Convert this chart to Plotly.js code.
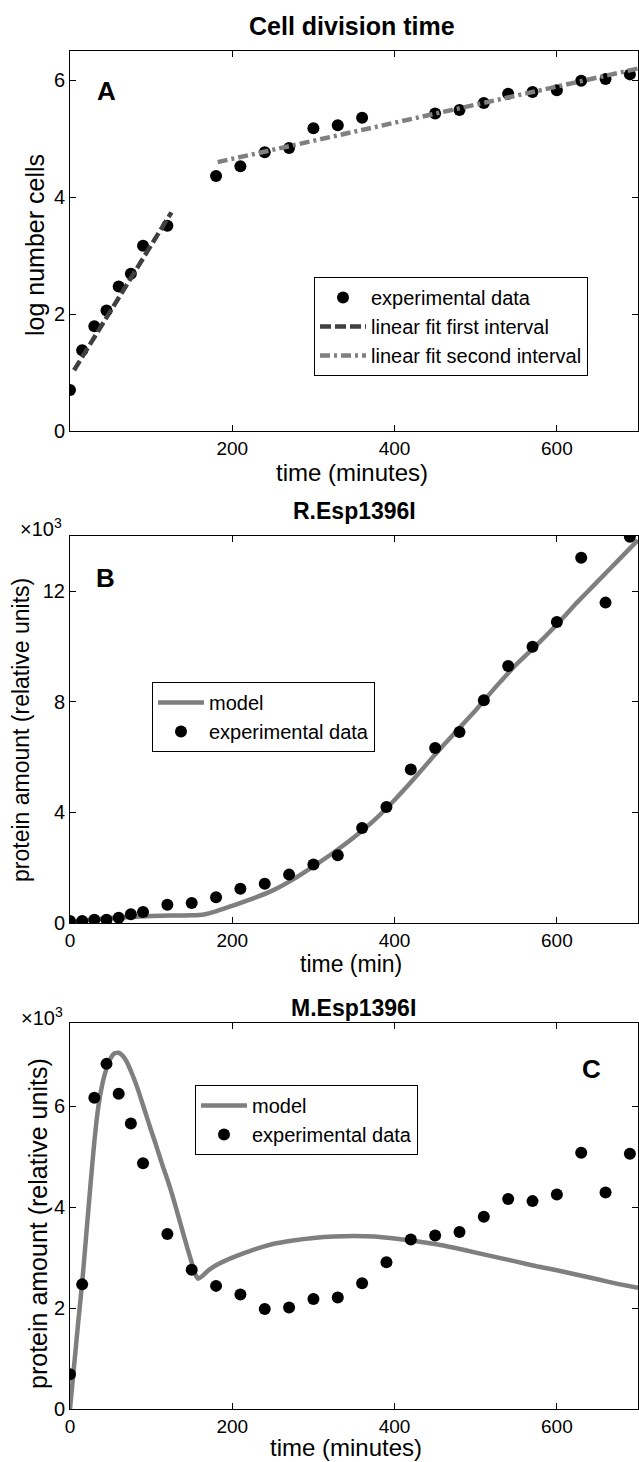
<!DOCTYPE html>
<html>
<head>
<meta charset="utf-8">
<script src="https://cdn.plot.ly/plotly-3.0.1.min.js"></script>
<style>
  html, body { margin: 0; padding: 0; background: #fff; }
  #chart { width: 639px; height: 1462px; }
</style>
</head>
<body>
<div id="chart"></div>
<script>
// ---------- Panel A: cell division time ----------
const timeA = [0, 15, 30, 45, 60, 75, 90, 120, 180, 210, 240, 270, 300, 330, 360, 450, 480, 510, 540, 570, 600, 630, 660, 690];
const logCells = [0.70, 1.38, 1.79, 2.06, 2.47, 2.69, 3.17, 3.51, 4.36, 4.53, 4.77, 4.84, 5.18, 5.23, 5.36, 5.43, 5.49, 5.61, 5.77, 5.80, 5.83, 5.99, 6.02, 6.10];
const fit1Time = [5, 125];
const fit1Value = [1.04, 3.74];
const fit2Time = [182, 700];
const fit2Value = [4.60, 6.20];
const xTicksA = [200, 400, 600];
const yTicksA = [0, 2, 4, 6];

// ---------- Panel B: R.Esp1396I (values in thousands) ----------
const timeBC = [0, 15, 30, 45, 60, 75, 90, 120, 150, 180, 210, 240, 270, 300, 330, 360, 390, 420, 450, 480, 510, 540, 570, 600, 630, 660, 690];
const rProtein = [0.07, 0.07, 0.12, 0.12, 0.19, 0.32, 0.40, 0.66, 0.72, 0.93, 1.24, 1.42, 1.75, 2.12, 2.45, 3.44, 4.20, 5.55, 6.33, 6.91, 8.06, 9.30, 9.99, 10.89, 13.21, 11.59, 13.97];
const rModelTime = [0, 25, 50, 75, 100, 125, 150, 165, 180, 200, 225, 250, 275, 300, 325, 350, 375, 400, 425, 450, 475, 500, 525, 550, 575, 600, 625, 650, 675, 700];
const rModel = [0.03, 0.12, 0.18, 0.22, 0.25, 0.27, 0.28, 0.31, 0.42, 0.62, 0.88, 1.18, 1.58, 2.05, 2.55, 3.10, 3.72, 4.45, 5.25, 6.10, 6.90, 7.70, 8.55, 9.35, 10.05, 10.80, 11.60, 12.35, 13.10, 13.85];
const xTicksBC = [0, 200, 400, 600];
const yTicksB = [0, 4, 8, 12];

// ---------- Panel C: M.Esp1396I (values in thousands) ----------
const mProtein = [0.69, 2.47, 6.17, 6.84, 6.25, 5.66, 4.87, 3.47, 2.76, 2.44, 2.27, 1.98, 2.01, 2.18, 2.21, 2.49, 2.91, 3.36, 3.44, 3.51, 3.81, 4.16, 4.12, 4.25, 5.08, 4.29, 5.06];
const mModelTime = [0, 5, 10, 15, 20, 25, 30, 35, 40, 45, 50, 55, 60, 65, 70, 75, 80, 85, 90, 95, 100, 105, 110, 115, 120, 125, 130, 135, 140, 145, 150, 155, 158, 162, 170, 180, 200, 225, 250, 275, 300, 325, 350, 375, 400, 425, 450, 475, 500, 525, 550, 575, 600, 625, 650, 675, 700];
const mModel = [0, 0.85, 1.70, 2.50, 3.45, 4.40, 5.30, 6.00, 6.45, 6.75, 6.95, 7.05, 7.06, 7.00, 6.88, 6.70, 6.50, 6.27, 6.02, 5.77, 5.52, 5.28, 5.03, 4.78, 4.55, 4.30, 4.02, 3.74, 3.45, 3.17, 2.90, 2.65, 2.58, 2.62, 2.74, 2.85, 3.00, 3.15, 3.27, 3.34, 3.39, 3.42, 3.43, 3.42, 3.38, 3.33, 3.27, 3.19, 3.10, 3.01, 2.92, 2.83, 2.75, 2.66, 2.57, 2.48, 2.40];
const yTicksC = [0, 2, 4, 6];

// ---------- styling ----------
const FONT = 'Liberation Sans, Arial, Helvetica, sans-serif';
const W = 639, H = 1462;
const px = x => x / W;
const py = y => 1 - y / H;

const markerStyle = {color: '#000', size: 12, symbol: 'circle'};
const modelLine = {color: '#7f7f7f', width: 4.5, shape: 'spline', smoothing: 0.4};

const traces = [
  {x: timeA, y: logCells, type: 'scatter', mode: 'markers', name: 'experimental data',
   marker: markerStyle, xaxis: 'x', yaxis: 'y', legend: 'legend'},
  {x: fit1Time, y: fit1Value, type: 'scatter', mode: 'lines', name: 'linear fit first interval',
   line: {color: '#404040', width: 4.5, dash: '11px,4px'}, xaxis: 'x', yaxis: 'y', legend: 'legend'},
  {x: fit2Time, y: fit2Value, type: 'scatter', mode: 'lines', name: 'linear fit second interval',
   line: {color: '#808080', width: 4.5, dash: '10px,4px,3px,4px'}, xaxis: 'x', yaxis: 'y', legend: 'legend'},

  {x: rModelTime, y: rModel, type: 'scatter', mode: 'lines', name: 'model',
   line: modelLine, xaxis: 'x2', yaxis: 'y2', legend: 'legend2'},
  {x: timeBC, y: rProtein, type: 'scatter', mode: 'markers', name: 'experimental data',
   marker: markerStyle, xaxis: 'x2', yaxis: 'y2', legend: 'legend2'},

  {x: mModelTime, y: mModel, type: 'scatter', mode: 'lines', name: 'model',
   line: modelLine, xaxis: 'x3', yaxis: 'y3', legend: 'legend3'},
  {x: timeBC, y: mProtein, type: 'scatter', mode: 'markers', name: 'experimental data',
   marker: markerStyle, xaxis: 'x3', yaxis: 'y3', legend: 'legend3'}
];

function axisBase(extra) {
  return Object.assign({
    showline: true, linecolor: '#000', linewidth: 1, mirror: 'ticks',
    ticks: 'inside', ticklen: 6, tickcolor: '#000', tickwidth: 1,
    showgrid: false, zeroline: false, fixedrange: true,
    tickfont: {family: FONT, size: 20, color: '#000'}
  }, extra);
}

const xDomain = [px(70), px(638)];

function xAxis(ticks, anchor) {
  return axisBase({domain: xDomain, range: [0, 700], tickvals: ticks, anchor: anchor,
    tickfont: {family: FONT, size: 19, color: '#000'}});
}

function legendBox(x, y) {
  return {
    x: px(x), y: py(y), xanchor: 'left', yanchor: 'top',
    bordercolor: '#000', borderwidth: 1, bgcolor: '#fff',
    font: {family: FONT, size: 20, color: '#000'},
    itemwidth: 46, tracegroupgap: 0
  };
}

function txt(text, x, y, size, bold, angle) {
  return {
    text: bold ? '<b>' + text + '</b>' : text,
    x: px(x), y: py(y), xref: 'paper', yref: 'paper',
    xanchor: 'center', yanchor: 'middle', showarrow: false,
    textangle: angle || 0, borderpad: 0,
    font: {family: FONT, size: size, color: '#000'}
  };
}

const layout = {
  width: W, height: H,
  margin: {l: 0, r: 0, t: 0, b: 0},
  paper_bgcolor: '#fff', plot_bgcolor: '#fff',
  showlegend: true,
  xaxis: xAxis(xTicksA, 'y'),
  yaxis: axisBase({domain: [py(431), py(51)], range: [0, 6.5], tickvals: yTicksA, anchor: 'x'}),
  xaxis2: xAxis(xTicksBC, 'y2'),
  yaxis2: axisBase({domain: [py(923), py(536)], range: [0, 14], tickvals: yTicksB, anchor: 'x2'}),
  xaxis3: xAxis(xTicksBC, 'y3'),
  yaxis3: axisBase({domain: [py(1409), py(1023)], range: [0, 7.65], tickvals: yTicksC, anchor: 'x3'}),
  legend: legendBox(314, 277),
  legend2: legendBox(152, 682),
  legend3: legendBox(195, 1085),
  annotations: [
    txt('Cell division time', 352, 26, 25, true),
    txt('time (minutes)', 352, 473, 24, false),
    txt('log number cells', 35, 245, 25, false, -90),
    txt('A', 106, 91, 26, true),

    txt('R.Esp1396I', 354, 511, 23, true),
    txt('time (min)', 351, 964, 23, false),
    txt('protein amount (relative units)', 21, 730, 23, false, -90),
    txt('B', 105, 578, 26, true),
    txt('\u00d710<sup>3</sup>', 41, 527, 20, false),

    txt('M.Esp1396I', 353, 1008, 23, true),
    txt('time (minutes)', 346, 1447, 24, false),
    txt('protein amount (relative units)', 38, 1224, 25, false, -90),
    txt('C', 591, 1069, 26, true),
    txt('\u00d710<sup>3</sup>', 42, 1016, 20, false)
  ]
};

Plotly.newPlot('chart', traces, layout, {displayModeBar: false, staticPlot: true});
</script>
</body>
</html>
